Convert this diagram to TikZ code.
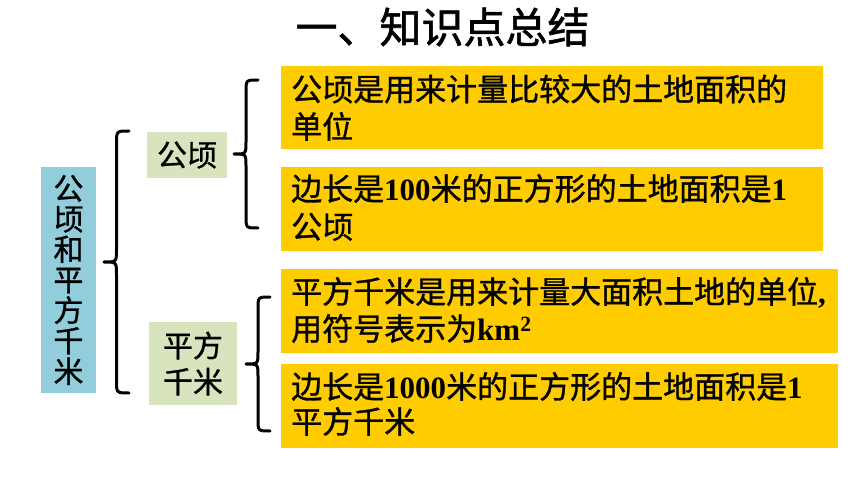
\documentclass[tikz,border=0pt]{standalone}
\usepackage{fontspec}
\setmainfont{Liberation Serif}
\newfontfamily\cjk{Noto Sans CJK SC}[FakeBold=1]
\newfontfamily\cjktitle{Noto Sans CJK SC}[FakeBold=1.4]
\newfontfamily\latf{Liberation Serif}
\newcommand\num[1]{{\latf\bfseries #1}}
\definecolor{ybox}{HTML}{FFCC00}
\definecolor{bbox}{HTML}{92CDDC}
\definecolor{gbox}{HTML}{D7E4BD}
\newcommand\leftcurl[4]{% tip x, end x, top y, bottom y
  \pgfmathsetmacro\bxm{(#1+#2)/2}%
  \pgfmathsetmacro\bym{(#3+#4)/2}%
  \pgfmathsetmacro\bw{(#2-#1)/2}%
  \draw[bracestyle] (#2,#3) .. controls (\bxm,#3) .. (\bxm,#3+\bw)
    -- (\bxm,\bym-\bw) .. controls (\bxm,\bym) .. (#1,\bym)
    .. controls (\bxm,\bym) .. (\bxm,\bym+\bw)
    -- (\bxm,#4-\bw) .. controls (\bxm,#4) .. (#2,#4);}
\begin{document}
\begin{tikzpicture}[x=1pt,y=-1pt,
  bracestyle/.style={line width=3pt,line cap=round,line join=round},
  yrect/.style={fill=ybox,inner sep=0pt,anchor=north west},
  ytxt/.style={inner sep=0pt,anchor=base west,font=\fontsize{31}{37}\selectfont\cjk},
  bluebox/.style={fill=bbox,inner sep=0pt,align=center,font=\fontsize{30}{30.5}\selectfont\cjk},
  greenbox/.style={fill=gbox,inner sep=0pt,align=center,font=\fontsize{30}{36}\selectfont\cjk}]
\fill[white] (0,0) rectangle (860,484);
\useasboundingbox (0,0) rectangle (860,484);
% title
\node[inner sep=0pt,font=\fontsize{42}{42}\selectfont\cjktitle] (T) at (442.5,27) {一、知识点总结};
% left box
\node[bluebox,minimum width=55pt,minimum height=226pt] (B) at (68.5,280) {公\\顷\\和\\平\\方\\千\\米};
% green boxes
\node[greenbox,minimum width=80pt,minimum height=46pt] (G1) at (187,155) {公顷};
\node[greenbox,minimum width=88pt,minimum height=83pt] (G2) at (193,363.5) {平方\\千米};
% yellow boxes
\node[yrect,minimum width=542pt,minimum height=83pt] (Y1) at (281,66) {};
\node[yrect,minimum width=542pt,minimum height=84pt] (Y2) at (281,167) {};
\node[yrect,minimum width=557pt,minimum height=84pt] (Y3) at (281,269) {};
\node[yrect,minimum width=557pt,minimum height=84pt] (Y4) at (281,364) {};
% texts
\node[ytxt] (Y1a) at (291,100.8) {公顷是用来计量比较大的土地面积的};
\node[ytxt] (Y1b) at (291,138.3) {单位};
\node[ytxt] (Y2a) at (291,200.3) {边长是\num{100}米的正方形的土地面积是\num{1}};
\node[ytxt] (Y2b) at (291,238.3) {公顷};
\node[ytxt] (Y3a) at (291,303.3) {平方千米是用来计量大面积土地的单位\num{,}};
\node[ytxt] (Y3b) at (291,340.3) {用符号表示为\num{km\textsuperscript{2}}};
\node[ytxt] (Y4a) at (291,398.3) {边长是\num{1000}米的正方形的土地面积是\num{1}};
\node[ytxt] (Y4b) at (291,433.3) {平方千米};
% braces
\leftcurl{104}{129}{131}{393}
\leftcurl{234}{258}{80}{228}
\leftcurl{246}{270}{297}{431}
\end{tikzpicture}
\end{document}
